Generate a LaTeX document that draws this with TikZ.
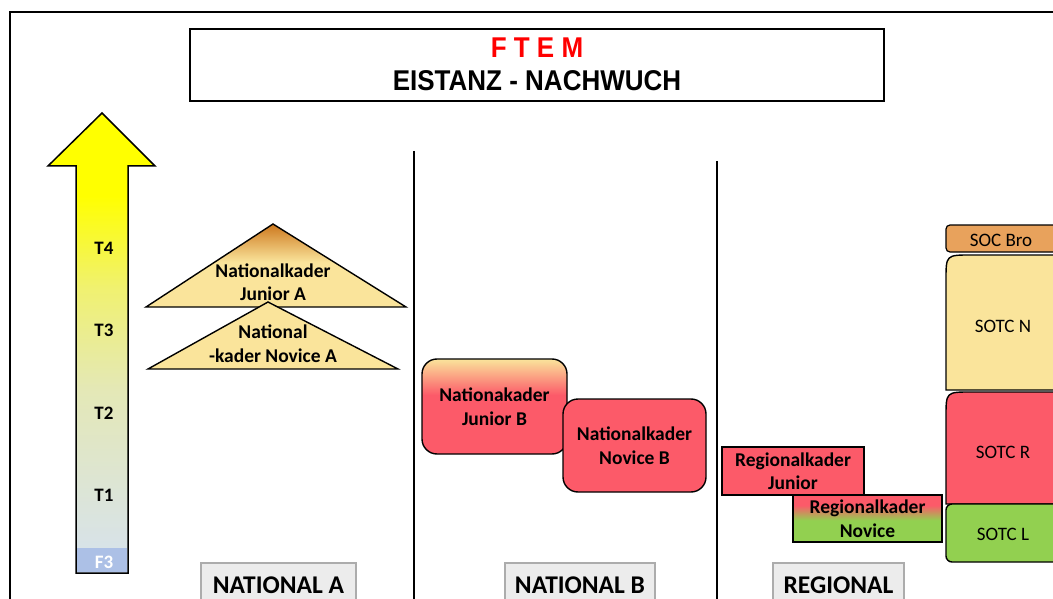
\documentclass[tikz,border=0pt]{standalone}
\usepackage{fontspec}
\setmainfont{Carlito}
\newfontfamily\arialfont{Liberation Sans}
\usepackage{xcolor}

\definecolor{kyellow}{RGB}{250,228,155}
\definecolor{kred}{RGB}{252,90,105}
\definecolor{kgreen}{RGB}{146,208,80}
\definecolor{korange}{RGB}{232,162,92}
\definecolor{kbrown}{RGB}{205,120,30}
\definecolor{kblue}{RGB}{172,192,230}
\definecolor{kgrey}{RGB}{214,226,240}
\definecolor{kpale}{RGB}{228,232,182}
\definecolor{klemon}{RGB}{240,241,112}

\pgfdeclareverticalshading{arrowgrad}{100bp}{color(0bp)=(kgrey); color(25bp)=(kgrey); color(45bp)=(kpale); color(56bp)=(klemon); color(66bp)=(yellow); color(100bp)=(yellow)}
\pgfdeclareverticalshading{triJunA}{100bp}{color(0bp)=(kyellow); color(52bp)=(kyellow); color(75bp)=(kbrown); color(100bp)=(kbrown)}
\pgfdeclareverticalshading{boxJunB}{100bp}{color(0bp)=(kred); color(56bp)=(kred); color(75bp)=(kyellow); color(100bp)=(kyellow)}
\pgfdeclareverticalshading{boxRegNov}{100bp}{color(0bp)=(kgreen); color(48bp)=(kgreen); color(64bp)=(kred); color(100bp)=(kred)}

\tikzset{
  kader/.style={draw, line width=1.4pt, align=center, inner sep=0pt,
    font=\bfseries\fontsize{19.5}{23.5}\selectfont},
  kadertext/.style={align=center, inner sep=0pt,
    font=\bfseries\fontsize{19.5}{23.5}\selectfont},
  soctext/.style={inner sep=0pt, font=\fontsize{19}{23}\selectfont},
  tlevel/.style={inner sep=0pt, font=\bfseries\fontsize{19}{22}\selectfont},
  region/.style={draw=gray!65, fill=gray!15, line width=1.6pt, minimum height=44,
    font=\bfseries\fontsize{25.5}{30}\selectfont},
  divider/.style={line width=1.5pt},
}

\begin{document}
\begin{tikzpicture}[x=1pt,y=-1pt]
		\useasboundingbox (0,0) rectangle (1053,599);
		\clip (0,0) rectangle (1053,599);
		%
		\draw[line width=2pt] (10,599) -- (10,12) -- (1053,12);
		\node[draw, line width=1.5pt, minimum width=694, minimum height=72] (titlebox) at (537,65) {};
		\node[text=red, yscale=1.1, font=\arialfont\bfseries\fontsize{26}{30}\selectfont] (ftem) at (537,48) {F T E M};
		\node[yscale=1.1, font=\arialfont\bfseries\fontsize{26}{30}\selectfont] (eistanz) at (537,81) {EISTANZ - NACHWUCH};
		%
		% level arrow
		\shadedraw[shading=arrowgrad, line width=1.5pt] (76,573) -- (76,166) -- (48,166) -- (102,113)
			-- (155,166) -- (128,166) -- (128,573) -- cycle;
		\fill[kblue] (77,548) rectangle (127,572);
		\node[tlevel] (t4) at (104,248) {T4};
		\node[tlevel] (t3) at (104,330) {T3};
		\node[tlevel] (t2) at (104,413) {T2};
		\node[tlevel] (t1) at (104,495) {T1};
		\node[tlevel, text=white] (f3) at (104,562) {F3};
		%
		% national A
		\shadedraw[shading=triJunA, line width=1.4pt] (273,224) -- (406,307) -- (146,307) -- cycle;
		\filldraw[fill=kyellow, line width=1.4pt] (268,302) -- (398,369) -- (148,369) -- cycle;
		\node[kadertext] (junA) at (273,282) {Nationalkader\\Junior A};
		\node[kadertext] (novA) at (273,343.5) {National\\-kader Novice A};
		%
		\draw[divider] (414,151) -- (414,599);
		\draw[divider] (717,161) -- (717,599);
		%
		% national B
		\node[kader, shade, shading=boxJunB, rounded corners=15, minimum width=145, minimum height=95]
			(junB) at (494.5,406.5) {Nationakader\\Junior B};
		\node[kader, fill=kred, rounded corners=15, minimum width=143, minimum height=93]
			(novB) at (634.5,445.5) {Nationalkader\\Novice B};
		%
		% regional
		\node[kader, fill=kred, minimum width=142, minimum height=48] (regJun) at (793,471) {Regionalkader\\Junior};
		\node[kader, shade, shading=boxRegNov, minimum width=149, minimum height=47] (regNov) at (867.5,518.5) {Regionalkader\\Novice};
		%
		\draw[fill=korange, rounded corners=4, line width=1.2pt] (946,225) rectangle (1075,252);
		\draw[fill=kyellow, line width=1.4pt] (946,390) -- (946,280) .. controls (946,255) .. (971,255)
			-- (1075,255) -- (1075,390) -- cycle;
		\draw[fill=kred, line width=1.4pt] (946,504) -- (946,417) .. controls (946,392) .. (971,392)
			-- (1075,392) -- (1075,504) -- cycle;
		\draw[fill=kgreen, rounded corners=6, line width=1.4pt] (946,504) rectangle (1075,562);
		\node[soctext] (socBro) at (1001,240) {SOC Bro};
		\node[soctext] (sotcN) at (1003,326) {SOTC N};
		\node[soctext] (sotcR) at (1003,452) {SOTC R};
		\node[soctext] (sotcL) at (1003,534) {SOTC L};
		%
		\node[region, minimum width=155] (natA) at (278.5,585) {NATIONAL A};
		\node[region, minimum width=150] (natB) at (580,585) {NATIONAL B};
		\node[region, minimum width=131] (regio) at (838.5,585) {REGIONAL};
\end{tikzpicture}
\end{document}
